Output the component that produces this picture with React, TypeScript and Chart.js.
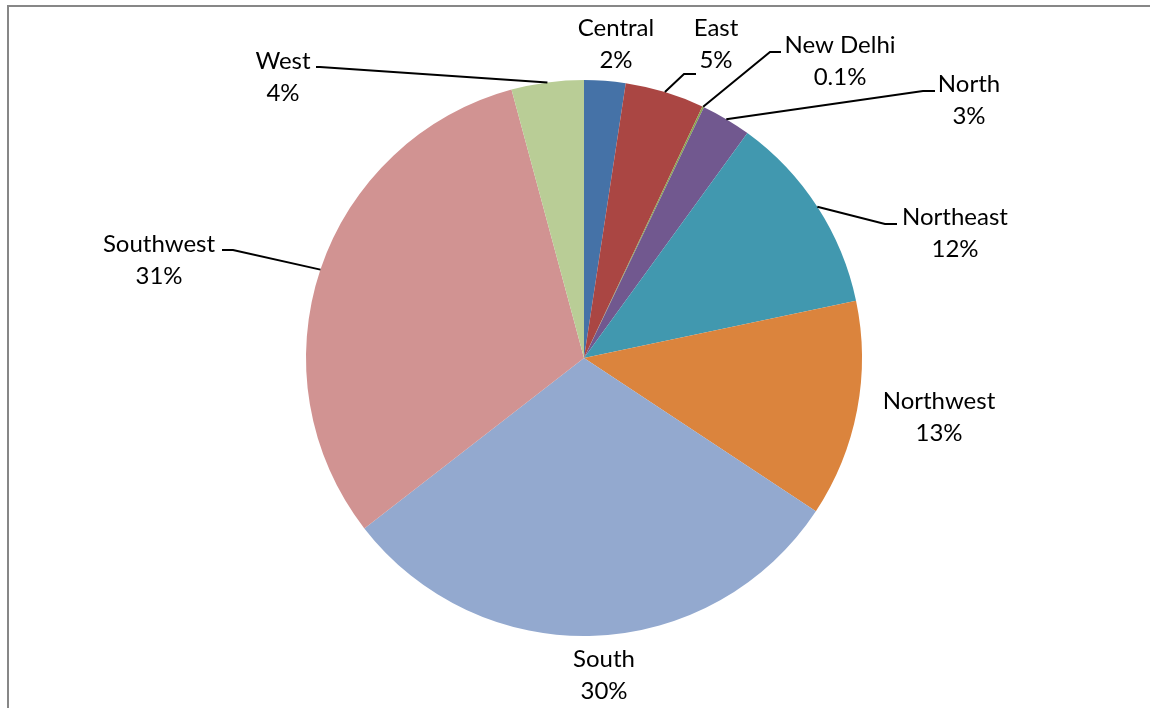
import React, { useEffect, useRef } from "react";
import { Chart, registerables } from "chart.js";

Chart.register(...registerables);

const categories = ["Central", "East", "New Delhi", "North", "Northeast", "Northwest", "South", "Southwest", "West"];
const values = [2.4, 4.6, 0.1, 2.9, 11.7, 12.6, 30.2, 31.3, 4.2];
const colors = ["#4572A7", "#AA4643", "#89A54E", "#71588F", "#4198AF", "#DB843D", "#93A9CF", "#D19392", "#B9CD96"];

// label layout: text centre and optional leader (elbow + end)
const labelLayout: { x: number; y: number; leader?: { ex: number; ey: number; tx: number } }[] = [
  { x: 616, y: 28 },
  { x: 716, y: 28, leader: { ex: 684, ey: 74, tx: 696 } },
  { x: 840, y: 45, leader: { ex: 770, ey: 52, tx: 781 } },
  { x: 969, y: 84, leader: { ex: 923, ey: 91, tx: 935 } },
  { x: 955, y: 217, leader: { ex: 885, ey: 224, tx: 897 } },
  { x: 939, y: 401 },
  { x: 604, y: 659 },
  { x: 159, y: 244, leader: { ex: 233, ey: 250, tx: 222 } },
  { x: 283, y: 61, leader: { ex: 320, ey: 67, tx: 316 } },
];

const FONT = '24px Lato, Carlito, "Open Sans", sans-serif';
const LINE_GAP = 32;

const fmtPct = (v: number, total: number) => {
  const p = (v / total) * 100;
  return p < 1 ? p.toFixed(1) + "%" : Math.round(p) + "%";
};

const borderPlugin = {
  id: "frameBorder",
  beforeDraw(chart: any) {
    const ctx = chart.ctx;
    ctx.save();
    ctx.fillStyle = "#ffffff";
    ctx.fillRect(0, 0, chart.width, chart.height);
    ctx.fillStyle = "#878787";
    ctx.fillRect(7, 5, 2, chart.height - 5);
    ctx.fillRect(7, 5, chart.width - 7, 2);
    ctx.restore();
  },
};

const labelPlugin = {
  id: "pieLabels",
  afterDatasetsDraw(chart: any) {
    const ctx = chart.ctx;
    const meta = chart.getDatasetMeta(0);
    const data = chart.data.datasets[0].data as number[];
    const total = data.reduce((a, b) => a + b, 0);
    ctx.save();
    meta.data.forEach((arc: any, i: number) => {
      const p = arc.getProps(["x", "y", "startAngle", "endAngle", "outerRadius"], true);
      const mid = (p.startAngle + p.endAngle) / 2;
      const ax = p.x + Math.cos(mid) * p.outerRadius;
      const ay = p.y + Math.sin(mid) * p.outerRadius;
      const lay = labelLayout[i];
      if (lay.leader) {
        ctx.strokeStyle = "#000000";
        ctx.lineWidth = 2;
        ctx.beginPath();
        ctx.moveTo(ax, ay);
        ctx.lineTo(lay.leader.ex, lay.leader.ey);
        ctx.lineTo(lay.leader.tx, lay.leader.ey);
        ctx.stroke();
      }
      ctx.fillStyle = "#000000";
      ctx.font = FONT;
      ctx.textAlign = "center";
      ctx.textBaseline = "middle";
      ctx.fillText(chart.data.labels[i], lay.x, lay.y);
      ctx.fillText(fmtPct(data[i], total), lay.x, lay.y + LINE_GAP);
    });
    ctx.restore();
  },
};

export default function App() {
  const ref = useRef<HTMLCanvasElement>(null);
  useEffect(() => {
    if (!ref.current) return;
    const chart = new Chart(ref.current, {
      type: "pie",
      data: {
        labels: categories,
        datasets: [
          {
            data: values,
            backgroundColor: colors,
            borderWidth: 0,
            radius: 278,
          } as any,
        ],
      },
      options: {
        responsive: false,
        animation: false,
        devicePixelRatio: 1,
        events: [],
        layout: { padding: { left: 18, right: 0, top: 8, bottom: 0 } },
        plugins: {
          legend: { display: false },
          tooltip: { enabled: false },
        },
      },
      plugins: [borderPlugin, labelPlugin],
    });
    return () => chart.destroy();
  }, []);
  return (
    <canvas
      ref={ref}
      width={1150}
      height={708}
      style={{ position: "fixed", left: 0, top: 0, width: 1150, height: 708 }}
    />
  );
}
